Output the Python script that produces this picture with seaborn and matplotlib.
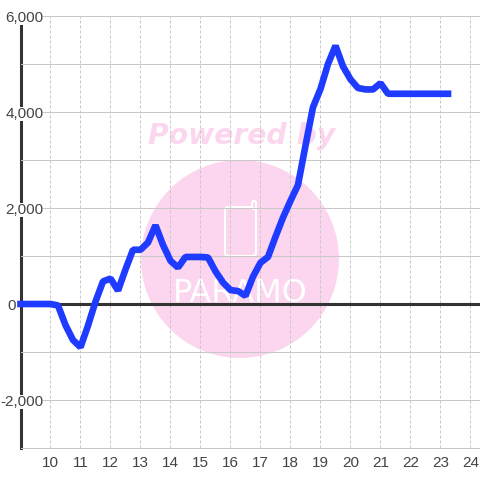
import matplotlib
matplotlib.use('Agg')
import matplotlib.pyplot as plt
from matplotlib.patches import Circle, FancyBboxPatch
from matplotlib.transforms import IdentityTransform
from matplotlib.ticker import FuncFormatter
import pandas as pd
import seaborn as sns

sns.set_theme(style='white')
plt.rcParams['font.family'] = ['Liberation Sans', 'DejaVu Sans']

#hours, one point every 15 minutes
hours = [9, 9.25, 9.5, 9.75, 10, 10.25, 10.5, 10.75, 11, 11.25, 11.5, 11.75, 12, 12.25, 12.5, 12.75,
         13, 13.25, 13.5, 13.75, 14, 14.25, 14.5, 14.75, 15, 15.25, 15.5, 15.75, 16, 16.25, 16.5, 16.75,
         17, 17.25, 17.5, 17.75, 18, 18.25, 18.5, 18.75, 19, 19.25, 19.5, 19.75, 20, 20.25, 20.5, 20.75,
         21, 21.25, 21.5, 21.75, 22, 22.25, 22.5, 22.75, 23, 23.25]
values = [0, 0, 0, 0, 0, -30, -440, -750, -900, -450, 50, 470, 530, 280, 720, 1130,
          1130, 1280, 1640, 1230, 900, 760, 980, 980, 980, 970, 680, 450, 290, 270, 170, 570,
          860, 980, 1400, 1800, 2150, 2480, 3300, 4100, 4480, 5000, 5380, 4950, 4680, 4500, 4470, 4470,
          4600, 4380, 4380, 4380, 4380, 4380, 4380, 4380, 4380, 4380]
x_ticks = list(range(10, 25))
y_ticks = [-2000, 0, 2000, 4000, 6000]
y_minor = [-3000, -1000, 1000, 3000, 5000]

df = pd.DataFrame({'hour': hours, 'value': values})

fig = plt.figure(figsize=(4.8, 4.8), dpi=100, facecolor='white')
ax = fig.add_axes([20.5/480, 32/480, 459.5/480, 432/480])
ax.patch.set_alpha(0)

#watermark sits behind the axes
pink = '#fcd6ee'
px = IdentityTransform()
fig.add_artist(Circle((240, 480-259), 99, transform=px, facecolor=pink, edgecolor='none', zorder=-2))
fig.text(242/480, 1-136/480, 'Powered by', color=pink, fontsize=20.3, fontweight='bold', fontstyle='italic',
         family='DejaVu Sans', ha='center', va='center', zorder=-2)
fig.add_artist(FancyBboxPatch((225, 480-256), 31, 49, boxstyle='round,pad=0,rounding_size=3', transform=px,
                              facecolor='none', edgecolor='white', linewidth=1.5, zorder=-1))
fig.add_artist(FancyBboxPatch((252, 480-209), 4, 8, boxstyle='round,pad=0,rounding_size=2', transform=px,
                              facecolor=pink, edgecolor='white', linewidth=1.5, zorder=-1))
fig.text(240/480, 1-293/480, 'PARAMO', color='white', fontsize=23, family='Liberation Sans Narrow',
         ha='center', va='center', zorder=-1)

sns.lineplot(data=df, x='hour', y='value', ax=ax, color='#1f3bff', linewidth=4.8, zorder=3, clip_on=False,
             solid_capstyle='projecting', solid_joinstyle='bevel', errorbar=None)
ax.axhline(0, color='#333333', linewidth=2.2, zorder=2.6)

ax.set_xlim(9, 24.317)
ax.set_ylim(-3000, 6000)
ax.set_xlabel('')
ax.set_ylabel('')
ax.set_xticks(x_ticks)
ax.set_yticks(y_ticks)
ax.set_yticks(y_minor, minor=True)
ax.yaxis.set_major_formatter(FuncFormatter(lambda v, p: f'{int(v):,}'))
ax.set_axisbelow(False)
ax.grid(True, which='major', axis='x', color='#c8c8c8', linewidth=0.72, linestyle=(0, (3, 2)))
ax.grid(True, which='both', axis='y', color='#c8c8c8', linewidth=0.72, linestyle='-')
ax.tick_params(axis='both', which='both', length=0, colors='#444444', labelsize=11)
ax.tick_params(axis='x', pad=6)
ax.tick_params(axis='y', pad=-16.5)

#the 0 label sits left of the axis line, the others cover it
for tick, v in zip(ax.yaxis.get_major_ticks(), y_ticks):
    if v == 0:
        tick.set_pad(3)
    else:
        tick.label1.set_bbox(dict(facecolor='white', edgecolor='none', pad=0))
    tick.label1.set_clip_on(False)

for side in ['top', 'right']:
    ax.spines[side].set_visible(False)
ax.spines['bottom'].set_color('#c8c8c8')
ax.spines['bottom'].set_linewidth(0.72)
ax.spines['left'].set_color('#333333')
ax.spines['left'].set_linewidth(2.2)

fig.savefig('out.png', dpi=100)
